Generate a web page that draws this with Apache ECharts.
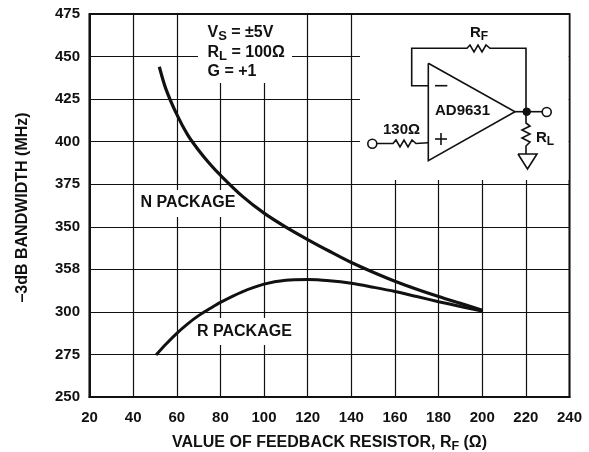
<!DOCTYPE html>
<html><head><meta charset="utf-8">
<style>html,body{margin:0;padding:0;background:#fff}#c{width:589px;height:452px}</style>
<script src="https://cdn.jsdelivr.net/npm/echarts@6/dist/echarts.min.js"></script>
</head><body><div id="c"></div>
<script>
const xTicks = [20,40,60,80,100,120,140,160,180,200,220,240];
const yTickLabels = ['250','275','300','358','350','375','400','425','450','475'];
const nX = [52,55,60,65,70,75,80,90,100,110,120,130,140,150,160,170,180,190,200];
const nY = [444,431,416,404,395,387.2,380.3,368,358,349.8,342.5,335.6,329,323.3,318,313.3,309,305,301];
const rX = [50.5,55,60,65,70,75,80,90,100,110,120,130,140,150,160,170,180,190,200];
const rY = [274.7,281,287.4,293,297.8,301.8,305.6,311.8,316.3,318.6,319,318.3,316.8,314.5,312,309,306,303.2,300.5];

const F = '"Liberation Sans", Arial, sans-serif';
const K = '#111';
const pair = (a,b)=>a.map((v,i)=>[v,b[i]]);
const mask = (x,y,w,h)=>({type:'rect',silent:true,z:1,shape:{x,y,width:w,height:h},style:{fill:'#fff'}});
const poly = (points,fill)=>({type:'polyline',silent:true,z:3,shape:{points},style:{fill:fill||'none',stroke:K,lineWidth:1.6}});
const txt = (x,y,text,size,align)=>({type:'text',silent:true,z:4,x,y,style:{text,fontFamily:F,fontWeight:'bold',fontSize:size,fill:K,align:align||'left',verticalAlign:'middle',rich:{
  b:{fontFamily:F,fontWeight:'bold',fontSize:size,fill:K},
  s:{fontFamily:F,fontWeight:'bold',fontSize:size-3,fill:K,padding:[7,0,0,0]}
}}});

const chart = echarts.init(document.getElementById('c'),null,{renderer:'canvas'});
chart.setOption({
  animation:false,
  backgroundColor:'#fff',
  grid:{left:89.5,right:19.5,top:14,bottom:55,containLabel:false,outerBoundsMode:'none'},
  xAxis:{type:'value',min:20,max:240,interval:20,
    name:'{b|VALUE OF FEEDBACK RESISTOR, R}{s|F}{b| (Ω)}',nameLocation:'middle',nameGap:36,
    nameTextStyle:{rich:{b:{fontFamily:F,fontWeight:'bold',fontSize:16,color:K},s:{fontFamily:F,fontWeight:'bold',fontSize:12.5,color:K,padding:[7,0,0,0]}}},
    axisLine:{show:true,onZero:false,lineStyle:{color:K,width:2}},axisTick:{show:false},
    axisLabel:{margin:13,fontFamily:F,fontWeight:'bold',fontSize:15,color:K,showMinLabel:true,showMaxLabel:true,
      formatter:v=>xTicks.includes(v)?String(v):''},
    splitLine:{show:true,lineStyle:{color:K,width:1.2}}},
  yAxis:{type:'value',min:250,max:475,interval:25,
    name:'–3dB BANDWIDTH (MHz)',nameLocation:'middle',nameGap:59,
    nameTextStyle:{fontFamily:F,fontWeight:'bold',fontSize:16,color:K,padding:[0,4,0,0]},
    axisLine:{show:true,onZero:false,lineStyle:{color:K,width:2}},axisTick:{show:false},
    axisLabel:{margin:9.5,fontFamily:F,fontWeight:'bold',fontSize:15,color:K,showMinLabel:true,showMaxLabel:true,
      formatter:v=>yTickLabels[Math.round((v-250)/25)]},
    splitLine:{show:true,lineStyle:{color:K,width:1.2}}},
  graphic:{elements:[
    {type:'rect',silent:true,z:0,shape:{x:89.5,y:14,width:480,height:383},style:{fill:'none',stroke:K,lineWidth:2}},
    mask(360,15,208.5,165),
    mask(198,15,94,68),
    mask(139,190,99,27),
    mask(195,318,100,27),
    txt(207.5,33,'{b|V}{s|S}{b| = ±5V}',16),
    txt(207.5,53,'{b|R}{s|L}{b| = 100Ω}',16),
    txt(207.5,72,'{b|G = +1}',16),
    txt(140.5,203,'{b|N PACKAGE}',16),
    txt(197,332,'{b|R PACKAGE}',16),
    poly([[428.3,63.3],[428.3,160.7],[515,111.7],[428.3,63.3]]),
    poly([[428.3,85.7],[411.7,85.7],[411.7,48.3],[467,48.3],[470,45],[474,52],[478,45],[482,52],[486,45],[490,48.3],[526,48.3],[526,111.7]]),
    poly([[515,111.7],[542,111.7]]),
    poly([[526,111.7],[526,123],[530,126],[522,130],[530,134],[522,138],[530,142],[526,146],[526,154]]),
    poly([[518,154],[537,154],[527.5,169],[518,154]]),
    poly([[377,143.5],[393,143.5],[396,140],[400,147],[404,140],[408,147],[412,140],[416,143.5],[428.3,142.7]]),
    poly([[435,85.7],[447.3,85.7]]),
    poly([[435,139],[447,139]]),
    poly([[441,133],[441,145]]),
    {type:'circle',silent:true,z:3,shape:{cx:526.7,cy:111.7,r:3.8},style:{fill:K,stroke:K,lineWidth:1}},
    {type:'circle',silent:true,z:3,shape:{cx:546.7,cy:112,r:4.5},style:{fill:'#fff',stroke:K,lineWidth:1.6}},
    {type:'circle',silent:true,z:3,shape:{cx:372.3,cy:143.7,r:4.5},style:{fill:'#fff',stroke:K,lineWidth:1.6}},
    txt(435,111,'{b|AD9631}',15),
    txt(383,130,'{b|130Ω}',15),
    txt(470,33,'{b|R}{s|F}',15),
    txt(536,138,'{b|R}{s|L}',15)
  ]},
  series:[
    {type:'line',name:'N PACKAGE',data:pair(nX,nY),smooth:0.3,showSymbol:false,z:2,lineStyle:{color:K,width:3.2,cap:'butt'}},
    {type:'line',name:'R PACKAGE',data:pair(rX,rY),smooth:0.3,showSymbol:false,z:2,lineStyle:{color:K,width:3,cap:'butt'}}
  ]
});
</script></body></html>
